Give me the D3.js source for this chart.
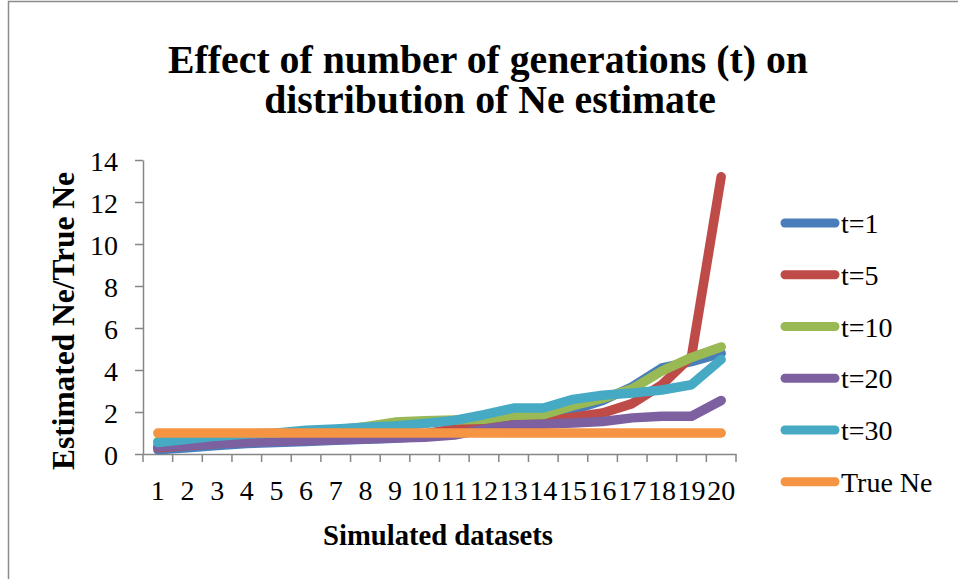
<!DOCTYPE html>
<html>
<head>
<meta charset="utf-8">
<script src="https://cdn.jsdelivr.net/npm/d3@7/dist/d3.min.js"></script>
<style>
  html, body { margin: 0; padding: 0; background: #fff; }
  svg { display: block; }
  text { font-family: "Liberation Serif", "Times New Roman", serif; fill: #000; }
</style>
</head>
<body>
<svg id="chart" width="958" height="579"></svg>
<script>
// Simulated dataset index along the x axis
const datasets = d3.range(1, 21);

// Ratio of estimated Ne to true Ne, one array per number of generations
const t1  = [0.2, 0.3, 0.4, 0.5, 0.55, 0.6, 0.65, 0.7, 0.75, 0.85, 1.1, 1.3, 1.5, 1.7, 2.1, 2.55, 3.2, 4.1, 4.4, 4.8];
const t5  = [0.3, 0.4, 0.5, 0.6, 0.65, 0.7, 0.75, 0.8, 0.85, 0.95, 1.2, 1.3, 1.45, 1.55, 1.75, 1.95, 2.4, 3.3, 4.65, 13.2];
const t10 = [0.6, 0.75, 0.85, 0.9, 0.95, 1.05, 1.15, 1.3, 1.52, 1.58, 1.62, 1.65, 1.85, 1.87, 2.3, 2.65, 3.1, 3.95, 4.6, 5.1];
const t20 = [0.35, 0.42, 0.5, 0.55, 0.6, 0.63, 0.68, 0.72, 0.76, 0.8, 0.9, 1.18, 1.38, 1.42, 1.48, 1.55, 1.72, 1.8, 1.8, 2.55];
const t30 = [0.55, 0.7, 0.85, 0.95, 1.0, 1.13, 1.19, 1.27, 1.33, 1.45, 1.6, 1.87, 2.19, 2.19, 2.6, 2.8, 2.9, 3.05, 3.3, 4.5];
const trueNe = [1, 1, 1, 1, 1, 1, 1, 1, 1, 1, 1, 1, 1, 1, 1, 1, 1, 1, 1, 1];

const seriesNames = ["t=1", "t=5", "t=10", "t=20", "t=30", "True Ne"];
const seriesValues = [t1, t5, t10, t20, t30, trueNe];
const seriesColors = ["#4a7ebb", "#be4b48", "#98b954", "#7d60a0", "#46aac5", "#f59443"];

const yTicks = [0, 2, 4, 6, 8, 10, 12, 14];

const svg = d3.select("#chart");

// Outer chart frame (left and top edges visible)
svg.append("path")
  .attr("d", "M8.5,600 V1.5 H970")
  .attr("fill", "none")
  .attr("stroke", "#8c8c8c")
  .attr("stroke-width", 1.5);

const plot = { left: 143, right: 736, top: 160, bottom: 454 };

const x = d3.scaleBand().domain(datasets).range([plot.left, plot.right]).padding(0);
const y = d3.scaleLinear().domain([0, 14]).range([plot.bottom, plot.top]);
const cx = d => x(d) + x.bandwidth() / 2;

const axisColor = "#868686";

// Y axis
const yAxis = svg.append("g")
  .attr("transform", `translate(${plot.left},0)`)
  .call(d3.axisLeft(y).tickValues(yTicks).tickSize(8).tickSizeOuter(0).tickPadding(17));
yAxis.select(".domain").attr("stroke", axisColor).attr("stroke-width", 1.5);
yAxis.selectAll(".tick line").attr("stroke", axisColor).attr("stroke-width", 1.5);
yAxis.selectAll(".tick text")
  .style("font-family", '"Liberation Serif", serif')
  .style("font-size", "28px")
  .attr("dy", "0.38em");

// X axis: labels at category centres, tick marks on category boundaries
const xAxis = svg.append("g")
  .attr("transform", `translate(0,${plot.bottom})`)
  .call(d3.axisBottom(x).tickSize(0).tickSizeOuter(0).tickPadding(0));
xAxis.select(".domain").attr("stroke", axisColor).attr("stroke-width", 1.5);
xAxis.selectAll(".tick text")
  .style("font-family", '"Liberation Serif", serif')
  .style("font-size", "28px")
  .attr("y", 46)
  .attr("dy", 0);

const boundaries = datasets.map(d => x(d)).concat([x.range()[1]]);
xAxis.selectAll("line.bound")
  .data(boundaries)
  .join("line")
  .attr("class", "bound")
  .attr("x1", d => d).attr("x2", d => d)
  .attr("y1", 0).attr("y2", 8)
  .attr("stroke", axisColor)
  .attr("stroke-width", 1.5);

// Series lines
const line = d3.line()
  .x((v, i) => cx(datasets[i]))
  .y(v => y(v));

svg.append("g")
  .selectAll("path")
  .data(seriesValues)
  .join("path")
  .attr("d", line)
  .attr("fill", "none")
  .attr("stroke", (d, i) => seriesColors[i])
  .attr("stroke-width", 9.5)
  .attr("stroke-linejoin", "round")
  .attr("stroke-linecap", "round");

// Legend
const legendY = d3.scalePoint().domain(seriesNames).range([223, 481.7]);
const legend = svg.append("g");
const items = legend.selectAll("g")
  .data(seriesNames)
  .join("g")
  .attr("transform", d => `translate(0,${legendY(d)})`);
items.append("line")
  .attr("x1", 785).attr("x2", 835)
  .attr("y1", 0).attr("y2", 0)
  .attr("stroke", (d, i) => seriesColors[i])
  .attr("stroke-width", 9)
  .attr("stroke-linecap", "round");
items.append("text")
  .attr("x", 841)
  .attr("dy", "0.36em")
  .style("font-size", "28px")
  .text(d => d);

// Scales a text element's font size so its rendered width equals the given width
function fitWidth(sel, width, size) {
  sel.style("font-size", size + "px");
  const w = sel.node().getComputedTextLength();
  sel.style("font-size", (size * width / w).toFixed(2) + "px");
  return sel;
}

// Title
const t1Text = svg.append("text")
  .attr("x", 488).attr("y", 73)
  .attr("text-anchor", "middle")
  .style("font-weight", "bold")
  .text("Effect of number of generations (t) on");
fitWidth(t1Text, 640, 40);
const t2Text = svg.append("text")
  .attr("x", 490).attr("y", 113)
  .attr("text-anchor", "middle")
  .style("font-weight", "bold")
  .text("distribution of Ne estimate");
t2Text.style("font-size", t1Text.style("font-size"));

// Axis titles
const yTitle = svg.append("text")
  .attr("transform", "translate(74,321) rotate(-90)")
  .attr("text-anchor", "middle")
  .style("font-weight", "bold")
  .text("Estimated Ne/True Ne");
fitWidth(yTitle, 298, 26);

const xTitle = svg.append("text")
  .attr("x", 438).attr("y", 545)
  .attr("text-anchor", "middle")
  .style("font-weight", "bold")
  .text("Simulated datasets");
fitWidth(xTitle, 230, 26);
</script>
</body>
</html>
